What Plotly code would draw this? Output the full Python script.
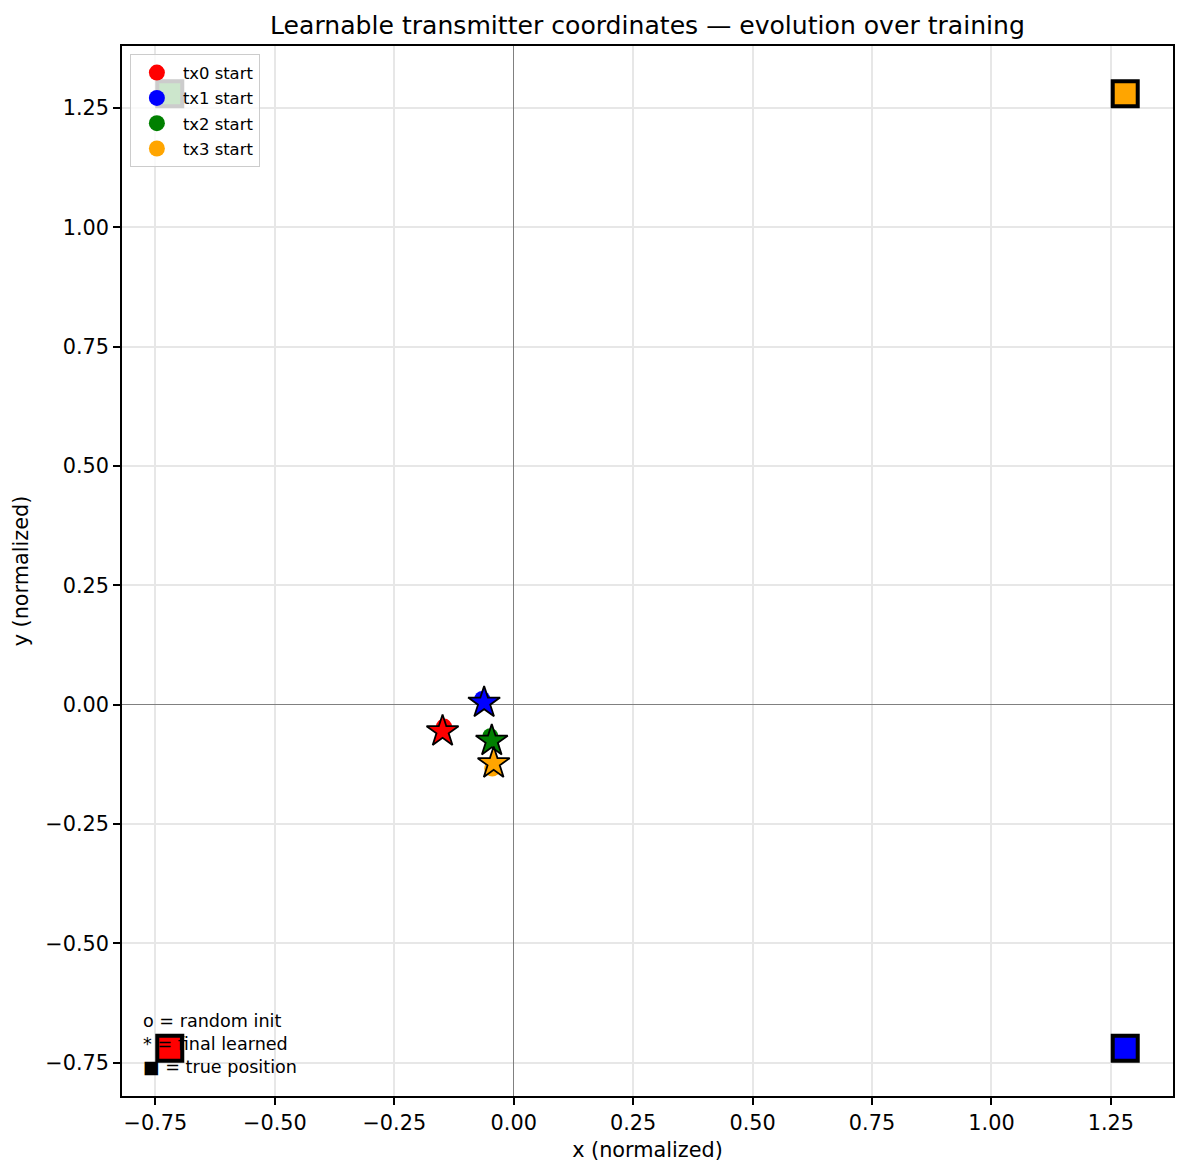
import plotly.graph_objects as go

# ---- data ----
tx_names = ["tx0", "tx1", "tx2", "tx3"]
tx_colors = ["red", "blue", "green", "orange"]
start_x = [-0.146, -0.066, -0.049, -0.045]
start_y = [-0.046, 0.012, -0.066, -0.134]
final_x = [-0.149, -0.062, -0.046, -0.042]
final_y = [-0.056, 0.004, -0.076, -0.123]
true_x = [-0.72, 1.28, -0.72, 1.28]
true_y = [-0.72, -0.72, 1.28, 1.28]
tick_vals = [-0.75, -0.50, -0.25, 0.00, 0.25, 0.50, 0.75, 1.00, 1.25]

FONT = "DejaVu Sans"
fig = go.Figure()

# random init (circles)
for i, name in enumerate(tx_names):
    fig.add_trace(go.Scatter(
        x=[start_x[i]], y=[start_y[i]], mode="markers",
        marker=dict(symbol="circle", size=16, color=tx_colors[i]),
        name=f"{name} start", legendgroup=name, showlegend=True))

# final learned (stars)
for i, name in enumerate(tx_names):
    fig.add_trace(go.Scatter(
        x=[final_x[i]], y=[final_y[i]], mode="markers",
        marker=dict(symbol="star", size=24, color=tx_colors[i],
                    line=dict(color="black", width=1.8)),
        showlegend=False, legendgroup=name))

# true positions (squares)
for i, name in enumerate(tx_names):
    fig.add_trace(go.Scatter(
        x=[true_x[i]], y=[true_y[i]], mode="markers",
        marker=dict(symbol="square", size=25, color=tx_colors[i],
                    line=dict(color="black", width=4)),
        showlegend=False, legendgroup=name))

axis_common = dict(
    tickmode="array", tickvals=tick_vals, tickformat=".2f",
    showgrid=True, gridcolor="#e7e7e7", gridwidth=1.5,
    zeroline=True, zerolinecolor="gray", zerolinewidth=1,
    showline=True, linecolor="black", linewidth=1.5, mirror=True,
    ticks="outside", ticklen=7, tickwidth=1.5, tickcolor="black",
    tickfont=dict(family=FONT, size=20.8, color="black"),
    range=[-0.82, 1.38],
)

fig.update_layout(
    width=1187, height=1175,
    margin=dict(l=122, r=14, t=46, b=79),
    paper_bgcolor="white", plot_bgcolor="white",
    font=dict(family=FONT, color="black"),
    title=dict(text="Learnable transmitter coordinates — evolution over training",
               x=0.5, xref="paper", y=1 - 25 / 1175, yref="container",
               xanchor="center", yanchor="middle",
               font=dict(family=FONT, size=25.1, color="black")),
    xaxis=dict(**axis_common,
               title=dict(text="x (normalized)", standoff=9,
                          font=dict(family=FONT, size=20.8, color="black"))),
    yaxis=dict(**axis_common,
               title=dict(text="y (normalized)", standoff=11,
                          font=dict(family=FONT, size=20.8, color="black"))),
    legend=dict(x=0.0075, y=0.992, xanchor="left", yanchor="top",
                bgcolor="rgba(255,255,255,0.8)", bordercolor="#cccccc",
                borderwidth=1, font=dict(family=FONT, size=16.4, color="black"),
                traceorder="grouped", tracegroupgap=1, itemwidth=42),
    showlegend=True,
)

fig.add_annotation(
    text="o = random init<br>* = final learned<br>■ = true position",
    xref="paper", yref="paper", x=0.018, y=0.016,
    xanchor="left", yanchor="bottom", align="left", showarrow=False,
    font=dict(family=FONT, size=17.6, color="black"))

fig.write_html("out.html")
